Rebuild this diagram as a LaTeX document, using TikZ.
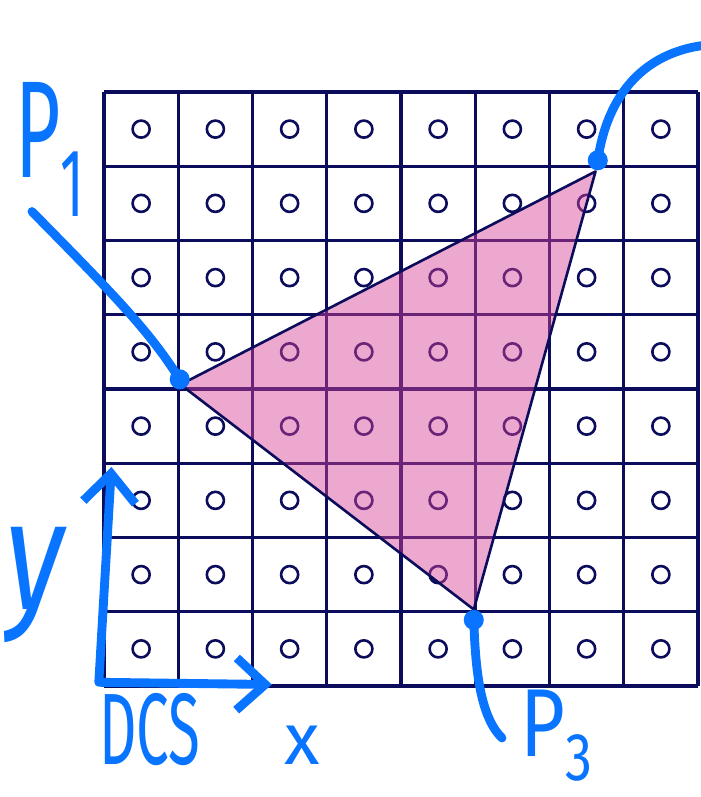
\documentclass[tikz,border=0pt]{standalone}
\usepackage{fontspec}
\setsansfont{Fira Sans}
\usetikzlibrary{arrows.meta}
\definecolor{navy}{RGB}{12,12,92}
\definecolor{ink}{RGB}{8,116,255}
\definecolor{tri}{RGB}{215,65,152}

\begin{document}
\begin{tikzpicture}[>=Latex,
    gridline/.style={navy,line width=1.2pt},
    sample/.style={navy,line width=1pt},
    pen/.style={ink,line width=3.4pt,line cap=round,line join=round},
    blob/.style={circle,fill=ink,inner sep=0pt,minimum size=0.27cm},
    hand/.style={ink,inner sep=0pt}]
  \useasboundingbox (-1.4007,-1.495) rectangle (8.027,9.239);
  % raster with one sample per pixel
  \draw[gridline] (0,0) grid (8,8);
  \foreach \i in {0,...,7}
    \foreach \j in {0,...,7}
      \draw[sample] (\i+0.5,\j+0.5) circle (0.115);
  % triangle
  \coordinate (p1) at (1.03,4.06);
  \coordinate (p2) at (6.62,6.93);
  \coordinate (p3) at (4.98,1.03);
  \fill[tri,fill opacity=0.46] (p1) -- (p2) -- (p3) -- cycle;
  \draw[navy,line width=1pt,line join=round] (p1) -- (p2) -- (p3) -- cycle;
  \node[blob] (b1) at (1.02,4.13) {};
  \node[blob] (b2) at (6.65,7.08) {};
  \node[blob] (b3) at (4.98,0.89) {};
  % annotations
  \node[hand,font=\sffamily\fontsize{46}{46}\selectfont] (l1) at (-0.72,7.22)
    {\scalebox{0.65}[1.15]{P\textsubscript{1}}};
  \node[hand,anchor=base,font=\sffamily\fontsize{37}{37}\selectfont] (l3) at (6.1,-0.95)
    {\scalebox{0.8}[1]{P\textsubscript{3}}};
  \coordinate (e1) at (-0.97,6.39);
  \coordinate (e2) at (8.1,8.63);
  \coordinate (e3) at (5.36,-0.70);
  \draw[pen] (e1) .. controls (0.1,5.3) and (0.6,4.8) .. (b1.center);
  \draw[pen] (b2.center) .. controls (6.8,8.1) and (7.4,8.55) .. (e2);
  \draw[pen] (b3.center) .. controls (5.0,0.3) and (5.05,-0.4) .. (e3);
  % axes
  \coordinate (o) at (-0.07,0.05);
  \coordinate (ytop) at (0.1,2.95);
  \coordinate (xend) at (2.26,0.02);
  \draw[pen,{Straight Barb[length=11pt,width=20pt]}-{Straight Barb[length=11pt,width=20pt]}]
    (ytop) -- (o) -- (xend);
  \node[hand,font=\sffamily\itshape\fontsize{46}{46}\selectfont] (ly) at (-0.93,1.36)
    {\scalebox{1}[1.3]{y}};
  \node[hand,font=\sffamily\fontsize{28}{28}\selectfont] (lx) at (2.67,-0.80) {x};
  \node[hand,anchor=base,font=\sffamily\fontsize{36}{36}\selectfont] (ld) at (0.62,-1.06)
    {\scalebox{0.62}[1.08]{DCS}};
\end{tikzpicture}
\end{document}
